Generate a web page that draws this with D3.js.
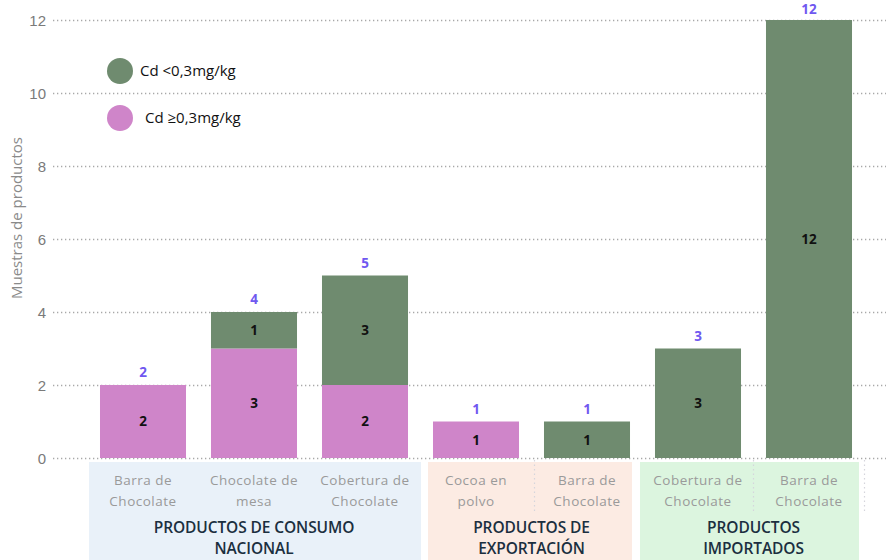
<!DOCTYPE html>
<html>
<head>
<meta charset="utf-8">
<script src="https://cdn.jsdelivr.net/npm/d3@7/dist/d3.min.js"></script>
<style>
  html, body { margin: 0; padding: 0; background: #fff; }
  svg { display: block; font-family: "Open Sans", "Noto Sans", sans-serif; }
</style>
</head>
<body>
<svg id="chart" width="886" height="560"></svg>
<script>
// Muestras de chocolate por categoría y nivel de cadmio
const categories = ["Barra de Chocolate|nac", "Chocolate de mesa|nac", "Cobertura de Chocolate|nac",
                    "Cocoa en polvo|exp", "Barra de Chocolate|exp",
                    "Cobertura de Chocolate|imp", "Barra de Chocolate|imp"];
const categoryLabels = [["Barra de", "Chocolate"], ["Chocolate de", "mesa"], ["Cobertura de", "Chocolate"],
                        ["Cocoa en", "polvo"], ["Barra de", "Chocolate"],
                        ["Cobertura de", "Chocolate"], ["Barra de", "Chocolate"]];
const seriesNames = ["Cd ≥0,3mg/kg", "Cd <0,3mg/kg"];
const highCd = [2, 3, 2, 1, 0, 0, 0];   // Cd ≥0,3mg/kg
const lowCd  = [0, 1, 3, 0, 1, 3, 12];  // Cd <0,3mg/kg
const groupNames = [["PRODUCTOS DE CONSUMO", "NACIONAL"], ["PRODUCTOS DE", "EXPORTACIÓN"], ["PRODUCTOS", "IMPORTADOS"]];
const groupFirst = [0, 3, 5];
const groupLast = [2, 4, 6];
const yTicks = [0, 2, 4, 6, 8, 10, 12];

const colors = { high: "#cf85c9", low: "#6f8b6f" };
const groupFills = ["#e9f1f9", "#fcebe3", "#dcf5df"];
// panel padding left/right of each group's outer bars
const panelPad = [[11, 13], [5, 2], [15, 7]];

const svg = d3.select("#chart");

const x = d3.scaleBand().domain(categories).range([87.5, 864.5]).paddingInner(0.225).paddingOuter(0.1125);
const y = d3.scaleLinear().domain([0, 12]).range([458, 20]);

const rows = categories.map((c, i) => ({ cat: c, high: highCd[i], low: lowCd[i], total: highCd[i] + lowCd[i], i }));
const stack = d3.stack().keys(["high", "low"])(rows);

// Group background panels below the axis
groupNames.forEach((g, gi) => {
  const x0 = x(categories[groupFirst[gi]]) - panelPad[gi][0];
  const x1 = x(categories[groupLast[gi]]) + x.bandwidth() + panelPad[gi][1];
  svg.append("rect").attr("x", x0).attr("y", 462).attr("width", x1 - x0).attr("height", 98)
    .attr("fill", groupFills[gi]);
});

// Vertical dotted separators between categories
const half = x.step() * 0.1125;
const sepX = [x(categories[4]) - half + 3, x(categories[6]) - half, x(categories[6]) + x.bandwidth() + half];
svg.selectAll("line.sep").data(sepX).join("line").attr("class", "sep")
  .attr("x1", d => d).attr("x2", d => d).attr("y1", 460).attr("y2", 512)
  .attr("stroke", "#d5d5dc").attr("stroke-width", 1.2).attr("stroke-dasharray", "1.5,3");

// Horizontal gridlines and tick labels
const yAxis = d3.axisLeft(y).tickValues(yTicks).tickSize(-(886 - 53)).tickPadding(9);
const ga = svg.append("g").attr("transform", "translate(53,0)").call(yAxis);
ga.select(".domain").remove();
ga.selectAll(".tick line").attr("stroke", "#a8a8a8").attr("stroke-width", 1.3).attr("stroke-dasharray", "1.3,2.7");
ga.selectAll(".tick text").attr("fill", "#7a7a7a").attr("font-size", 15).attr("x", -7).attr("dy", "0.34em");

// Stacked bars
svg.append("g").selectAll("g").data(stack).join("g")
  .attr("fill", d => d.key === "high" ? colors.high : colors.low)
  .selectAll("rect").data(d => d.filter(p => p[1] > p[0])).join("rect")
  .attr("x", d => x(d.data.cat))
  .attr("y", d => y(d[1]))
  .attr("width", x.bandwidth())
  .attr("height", d => y(d[0]) - y(d[1]));

// Segment value labels
svg.append("g").selectAll("g").data(stack).join("g")
  .selectAll("text").data(d => d.filter(p => p[1] > p[0])).join("text")
  .attr("x", d => x(d.data.cat) + x.bandwidth() / 2)
  .attr("y", d => (y(d[0]) + y(d[1])) / 2)
  .attr("dy", "0.36em")
  .attr("text-anchor", "middle").attr("font-size", 13.5).attr("font-weight", 700).attr("fill", "#111")
  .text(d => d[1] - d[0]);

// Totals above bars (kept inside the top edge)
svg.append("g").selectAll("text").data(rows).join("text")
  .attr("x", d => x(d.cat) + x.bandwidth() / 2)
  .attr("y", d => Math.max(y(d.total) - 8, 14))
  .attr("text-anchor", "middle").attr("font-size", 13.5).attr("font-weight", 700).attr("fill", "#7058f0")
  .text(d => d.total);

// Category labels
const catG = svg.append("g").selectAll("text").data(rows).join("text")
  .attr("text-anchor", "middle").attr("font-size", 13.5).attr("letter-spacing", "0.5").attr("fill", "#9a9a9a")
  .attr("x", d => x(d.cat) + x.bandwidth() / 2);
catG.selectAll("tspan").data(d => categoryLabels[d.i]).join("tspan")
  .attr("x", function () { return d3.select(this.parentNode).attr("x"); })
  .attr("y", (d, i) => 485 + i * 21)
  .text(d => d);

// Group labels
groupNames.forEach((g, gi) => {
  const cx = (x(categories[groupFirst[gi]]) + x(categories[groupLast[gi]]) + x.bandwidth()) / 2;
  const t = svg.append("text").attr("text-anchor", "middle").attr("font-size", 15.5)
    .attr("font-weight", 600).attr("fill", "#1b2f3f").attr("letter-spacing", "-0.1");
  g.forEach((line, i) => t.append("tspan").attr("x", cx).attr("y", 533 + i * 21).text(line));
});

// Y axis title
svg.append("text").attr("transform", "translate(22,218) rotate(-90)")
  .attr("text-anchor", "middle").attr("font-size", 15).attr("fill", "#8a8a8a")
  .text("Muestras de productos");

// Legend
const legend = [
  { label: seriesNames[1], color: colors.low, cy: 71, tx: 140 },
  { label: seriesNames[0], color: colors.high, cy: 118, tx: 145 }
];
const lg = svg.append("g").selectAll("g").data(legend).join("g");
lg.append("circle").attr("cx", 120).attr("cy", d => d.cy).attr("r", 13).attr("fill", d => d.color);
lg.append("text").attr("x", d => d.tx).attr("y", d => d.cy).attr("dy", "0.35em")
  .attr("font-size", 15).attr("fill", "#111").text(d => d.label);
</script>
</body>
</html>
